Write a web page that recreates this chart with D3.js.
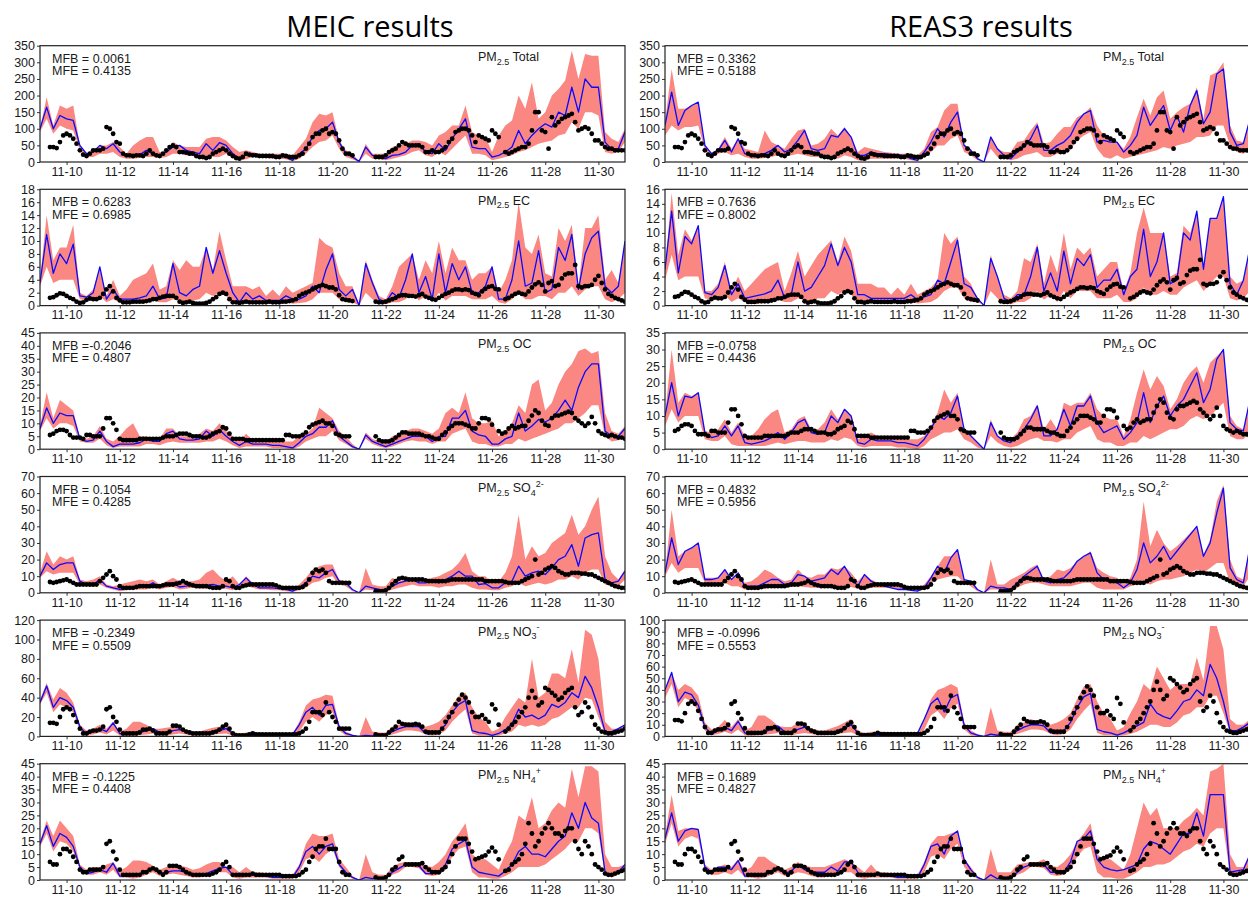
<!DOCTYPE html>
<html>
<head>
<meta charset="utf-8">
<script src="https://cdn.jsdelivr.net/npm/d3@7"></script>
<style>
  body { margin: 0; background: #fff; }
  text { font-family: "Liberation Sans", Arial, sans-serif; fill: #1a1a1a; }
  .title { font-family: "Open Sans", sans-serif; font-size: 29px; fill: #000; }
</style>
</head>
<body>
<svg id="chart" width="1248" height="897"></svg>
<script>
// ---- time axis: hours since 11-09 00:00; model every 6 h, observations every 3 h
const dateLabels = ["11-10","11-12","11-14","11-16","11-18","11-20","11-22","11-24","11-26","11-28","11-30"];
const dateTickHours = [24,72,120,168,216,264,312,360,408,456,504];

// ---- y-axis tick values
const ticksTotal = [0,50,100,150,200,250,300,350];
const ticksECMeic = [0,2,4,6,8,10,12,14,16,18];
const ticksECReas = [0,2,4,6,8,10,12,14,16];
const ticksOCMeic = [0,5,10,15,20,25,30,35,40,45];
const ticksOCReas = [0,5,10,15,20,25,30,35];
const ticksSO4 = [0,10,20,30,40,50,60,70];
const ticksNO3Meic = [0,20,40,60,80,100,120];
const ticksNO3Reas = [0,10,20,30,40,50,60,70,80,90,100];
const ticksNH4 = [0,5,10,15,20,25,30,35,40,45];

// ---- statistics printed in each panel
const statsMeic = [["MFB = 0.0061","MFE = 0.4135"],["MFB = 0.6283","MFE = 0.6985"],["MFB =-0.2046","MFE = 0.4807"],
                   ["MFB = 0.1054","MFE = 0.4285"],["MFB = -0.2349","MFE = 0.5509"],["MFB = -0.1225","MFE = 0.4408"]];
const statsReas = [["MFB = 0.3362","MFE = 0.5188"],["MFB = 0.7636","MFE = 0.8002"],["MFB =-0.0758","MFE = 0.4436"],
                   ["MFB = 0.4832","MFE = 0.5956"],["MFB = -0.0996","MFE = 0.5553"],["MFB = 0.1689","MFE = 0.4827"]];

// ---- observations (3-hourly, µg/m3)
const obsTotal = [null,null,null,45,45,42,60,80, 85,80,70,55,35,22,18,25, 35,35,35,40,105,100,85,60, 55,25,20,20,18,20,20,18, 25,35,25,20,18,25,35,45, 50,45,30,30,28,25,25,18, 15,15,12,15,25,30,35,40, 35,25,18,12,10,15,25,22, 20,20,18,18,18,18,18,15, 15,20,18,15,15,15,20,25, 40,55,75,85,85,95,100,85, 90,85,65,40,25,25,20,null, null,null,null,null,null,15,15,15, 20,30,35,40,50,60,55,50, 50,50,50,45,30,30,35,30, 30,35,45,60,70,90,95,100, 100,95,80,60,80,75,70,65, 95,85,75,null,30,25,30,35, 40,45,45,55,95,150,150,95, 90,40,135,110,120,130,135,140, 145,120,95,100,105,100,85,65, 65,55,45,40,40,35,35,35, 35];
const obsEC = [null,null,null,1.2,1.3,1.6,1.9,1.8, 1.5,1.2,1.0,0.6,0.4,0.5,0.9,1.1, 1.0,1.0,1.2,1.8,2.5,3.0,2.2,1.2, 0.8,0.5,0.5,0.5,0.6,0.6,0.6,0.6, 0.7,0.8,1.0,1.0,1.2,1.4,1.5,1.5, 1.5,1.2,0.6,0.4,0.5,0.6,0.4,0.3, 0.3,0.3,0.4,0.6,1.0,1.3,1.8,2.0, 1.8,1.0,0.5,0.5,0.4,0.5,0.6,0.5, 0.5,0.5,0.5,0.5,0.5,0.6,0.5,0.5, 0.5,0.6,0.6,0.7,0.8,1.0,1.5,1.8, 2.0,2.2,2.5,2.8,3.0,3.2,3.0,2.8, 2.8,2.5,1.6,1.0,0.9,0.8,0.7,null, null,null,null,null,null,0.6,0.5,0.5, 0.6,0.8,1.0,1.2,1.5,1.6,1.6,1.5, 1.5,1.4,1.6,1.8,1.4,1.2,1.0,0.9, 1.2,1.5,1.8,2.0,2.3,2.5,2.5,2.4, 2.5,2.4,2.0,1.8,1.6,2.2,2.6,2.9, 3.0,2.6,2.5,null,1.0,1.2,1.5,1.8, 2.0,1.8,1.7,2.2,2.8,3.3,3.6,3.2, 2.2,3.5,3.8,3.0,3.2,4.2,4.8,5.0, 5.0,6.3,3.0,2.8,3.0,3.0,3.2,4.0, 4.6,3.5,2.5,1.8,1.5,1.2,1.0,0.8, 0.6];
const obsOC = [null,null,null,5.5,6,7,7.5,7.5, 7,5.5,4.5,4.5,4.5,4,5.5,5.5, 5,5,5,8,12,12,10,7.5, 4,3.5,3.5,3.5,3.5,3.5,4,4, 4,4,4,4,4,4.5,5,5, 5,5.5,6,6,6,5.5,5,5, 5,4.5,4.5,5,6,6.5,7,8.5, 8,6,4,4,4,4,3.5,3.5, 3.5,3.5,3.5,3.5,3.5,3.5,3.5,3.5, 3.5,3.5,5.5,5.5,5,5,5,5.5, 6.5,8.5,9.5,10,10.5,11,10,10, 9,6,5.5,5,5,5,null,null, null,null,null,null,null,5,3.5,3, 3,3,3.5,4.5,5.5,6.5,6.5,6, 6,6,6,5.5,5,5,4.5,4, 4,5.5,6.5,8,9,10,10,10, 9.5,9,8,8,10,12,12,11.5, 9.5,null,7,6,6.5,8,9,8, 8.5,9,9,11,13,15,14,11, 9.5,9,12,13,13,13.5,14,14.5, 14,12,11,10,9,10,12.5,10, 7,6,5.5,5,5.5,5,4.5,4.5, 4];
const obsSO4 = [null,null,null,6.5,6,6.5,7,7.5, 8,7,6,5,5,5,5,5, 5,5,7,9,11,13,10,8, 4,3,3,3,3,3.5,4,4, 4,4,4,4,4,4.5,5,5, 5,5.5,6,7,6,5,4.5,4, 4,4,4,3.5,3,3,3,4, 8,7,4,3,3,4,4.5,5, 5,5,5,5,5,5,5,4.5, 3.5,3,3,3,3,3,3,3.5, 5,8,12,14,13,14,12,7, 6,6,6,6,6,6,null,null, null,null,null,null,null,1,1,1, 1.5,3,5,7,8.5,9,8.5,8, 8,8,8,8,7.5,7,7,7, 7,7,7,7.5,8,8,8,8, 8,8,8,8,8,8,7,7, 7,7,7,7,6.5,6,6,6, 6,7,8,9,10,20,11,12, 14,15,16,15,13,12,11,11, 12,12,12,11.5,11.5,11,11,10, 9,8,7,6,5,4,3.5,3, 3];
const obsNO3 = [null,null,null,14,14,13,20,28, 30,28,22,15,8,3,3,5, 6,6,7,10,28,30,20,15, 7,3,3,3,3,3,4,7, 7,8,6,3,3,3,3,5, 11,11,10,7,5,4,3,3, 3,3,3,3,4,5,7,10, 12,8,3,1,1,1,1,2, 3,2,2,2,2,2,2,2, 2,2,2,2,2,2,3,5, 8,15,25,25,25,22,35,25, 20,15,8,8,8,8,null,null, null,null,null,null,null,2,1,1, 1,4,7,10,15,13,12,12, 12,13,12,10,5,4,4,4, 4,8,15,20,25,33,38,43, 40,35,25,20,20,22,18,15, 33,28,12,null,5,8,12,15, 20,25,30,40,47,40,32,35, 50,48,45,42,38,40,45,48, 50,30,22,25,35,30,20,12, 8,5,4,3,3,4,5,6, 8];
const obsNH4 = [null,null,null,7,6,6,10,12, 12,11,9,7,4,3,3,4, 4,4,4,5,14,15,11,8, 4,2,2,2,2,2,2,3, 3,4,4.5,4,3,2,3,5.5, 5.5,5.5,5,4,3,2.5,2,2, 2,2,2,2,2.5,3,4,6, 7,5,2,2,2,2,2,2, 2.5,2,2,2,2,2,2,2, 2,1.5,1.5,1.5,1.5,1.5,2,3, 4,7,9,12,13,13,16,12, 12,12,7,3,2,2,null,null, null,null,null,null,null,1,0.5,0.5, 1,2,4,5,8,9,6,6, 6,6,6,6.5,5,4,3,3, 3,4,5,7,10,13,16,16, 16,14,11,8,8.5,9,9.5,11, 12.5,11,8,null,3.5,4,6,7, 8,10,14,22,18,13,15,18, 20,22,20,18,18,17,19,20, 20,15,12,10,15,13,10,6, 5,4,2.5,2,2,2.5,3,3.5, 4];

// ---- MEIC simulation (6-hourly): ensemble mean, lower and upper envelope
const meicTotalMean = [100,165,100,140, 130,125,50,25, 30,50,40,55, 30,20,20,22, 35,25,20,30, 45,50,35,30, 25,55,35,58, 50,25,10,22, 25,20,20,18, 18,15,5,25, 40,75,95,100, 120,60,25,15, 2,45,20,15, 10,20,22,30, 50,55,30,25, 55,35,70,100, 130,45,40,40, 15,20,30,45, 95,55,80,100, 115,105,150,140, 225,150,250,225, 225,60,38,40, 90];
const meicTotalLow = [90,130,85,110, 100,95,35,15, 15,25,25,30, 15,10,10,12, 15,15,12,15, 25,25,20,18, 15,20,15,15, 25,12,5,8, 15,12,12,10, 10,8,2,10, 25,45,60,65, 80,40,15,8, 0,25,10,8, 5,10,15,20, 30,35,20,15, 30,20,40,60, 80,25,25,20, 5,10,15,20, 30,35,45,55, 60,65,80,85, 120,100,150,150, 140,30,25,30, 60];
const meicTotalHigh = [100,195,110,170, 160,170,50,25, 35,50,50,60, 45,25,50,65, 75,75,30,30, 60,50,45,45, 45,70,75,75, 65,45,30,35, 30,25,25,25, 25,25,20,45, 70,120,145,140, 150,65,35,25, 2,55,25,25, 25,45,50,55, 65,65,60,50, 80,90,110,110, 170,90,80,75, 30,80,110,125, 200,160,240,130, 150,200,220,245, 335,250,325,320, 320,90,70,60, 100];

const meicECMean = [3.5,11,5,8, 6.5,9.5,1.5,1.3, 2,6,1,2.5, 1,1,1,1.2, 1.5,3,1,1.2, 6.5,2,1.5,2.5, 3,9,5,8.5, 5,2,0.5,2, 1,1.5,0.8,0.8, 0.8,1.5,1,1, 1.5,3,2,5.5, 8,2.5,1.5,2.5, 0,6.5,3.5,1, 0.5,2,1.2,4, 8,2,4.5,1, 8,2,6.5,4, 6,2,2,3, 6,1,1,4, 10,3,3.5,8.5, 2,2.5,9,7, 11,2.5,8,10.5, 11.5,3,2,3, 10];
const meicECLow = [3,6,3.5,4, 4,4,1,0.8, 1,1.5,0.5,1, 0.5,0.3,0.3,0.5, 0.6,0.8,0.5,0.5, 1,0.8,0.5,0.8, 1,2,1.5,2, 1.5,0.5,0.2,0.5, 0.3,0.5,0.3,0.3, 0.3,0.5,0.3,0.4, 0.5,1,2,2, 2,1,0.5,0.5, 0,2,1,0.3, 0.2,0.5,0.5,1, 2,0.8,1.5,0.5, 2,0.8,1.5,1.5, 1.5,1,1,1, 1.5,0.5,0.3,1, 2,1,1,1.5, 1.5,1,2,2, 3,1.5,2.5,3, 3,1,0.5,1, 2];
const meicECHigh = [4,14,7,9, 9,12.5,2,1.5, 2.5,6,1.5,4, 1.5,2.5,4,4.5, 5,6.5,2.5,3, 7,5.5,7,6, 6,9,5.5,11.5, 7,3,3,3, 2.5,3,1.5,2.5, 1.5,3,2,2.5, 3,3.5,10.5,9.5, 9,5,3,3, 0.2,7,4,1.5, 1,3,6,7, 7,4,7,5, 10,5,9,7, 7,4,5,5, 6,2,4,7, 16,9,8,11, 5,4.5,12,10, 12.5,3,12,12, 14,4,5.5,3.5, 10];

const meicOCMean = [8,16,10,14, 13,13,4,3, 3.5,7,3,1, 2,2,2,2.5, 4,3,3,6, 7,4,3.5,3.5, 4,7,5,7.5, 5,3,1.5,3, 2,2,2,1.5, 1.5,1,0.5,2.5, 5,6,8.5,8.5, 11,5,3,1, 0,5.5,3,2, 1,2,3,4, 5,5,5,3, 5,5,12,12, 15,7,5.5,5, 2,2,4,5, 14,7,9,11.5, 10.5,12,15,19, 15,24,30,33, 33,7,5,5, 8];
const meicOCLow = [7,12,8,10, 10,9,3,2.5, 2.5,4,1.5,0.5, 1,1,1,1, 2,2,1.5,2.5, 3,2.5,2.5,2.5, 2.5,3,3,4, 3,1.5,0.5,1, 1,1,1,0.5, 0.5,0.3,0,1, 3,4,5,5, 7,3.5,2,0.5, 0,4,2,1, 0.5,1,2,3, 3.5,3,3,2, 3,3,6,7, 8,3,2,2, 1,1,2,2, 4,3,4,5, 6,7,8,10, 10,12,14,17, 17,5,3,3.5, 5];
const meicOCHigh = [9,22,12,19, 17,15,4.5,4, 5,9,4,3, 5,8,10,5, 5,4,4,8, 8,5,5,5.5, 6,8,7,10, 7,5,3,6, 3.5,4,3,3, 3,3,3,5, 6,8,16,14, 12,7,5,2, 0,6.5,4,3, 3,5,6,7, 8,8,7,6, 8,14,16,14, 22,12,10,10, 11,5,7,10, 17,14,25,27, 15,18,25,30, 33,38,39,37, 38,14,7,6, 9];

const meicSO4Mean = [10,18,14,17, 18,18,7,5, 5,8,4,3, 2,2.5,3,4, 3.5,6,3.5,5, 6,3.5,4,5, 4.5,4.5,5,4, 4,3,5,9, 5,3,3,3, 2.5,2,1,3, 6,10,9,12, 14,7,6,2, 0,4,3,2, 1,4,6,7, 8,6,6,7, 6,8,10,13, 10,10,5,5.5, 3,3,6,7, 16,10,12,13, 11,15,20,22, 29,16,33,35, 36,8,6,7, 13];
const meicSO4Low = [9,13,11,12, 12,12,5,4, 3.5,5,3,2, 1,1.5,2,2, 2,3,2,3, 3.5,2,2.5,3, 2.5,2.5,3,2.5, 2.5,1.5,3,4, 3,2,2,1.5, 1.5,1,0.5,1.5, 3,6,7,9, 10,5,4,1, 0,2,1.5,1, 0.5,2,3,4, 5,4,4,4, 3,4,4,5, 5,3,2,2, 1.5,1.5,3,4, 6,4,5,6, 5,6,8,8, 10,8,12,14, 14,5,4,4, 8];
const meicSO4High = [12,25,17,22, 20,22,8,7, 8,10,5,4, 5,6,7,8, 7,8,5,7, 9,7,7,7, 8,12,14,10, 7,10,5,10, 6,5,5,4.5, 4,4,3,5, 9,14,16,17, 17,8,7,2, 0,15,5,4, 4,9,7,8, 8,9,8,9, 10,12,14,18, 24,13,10,10, 6,7,12,22, 47,20,28,22, 24,30,33,36, 47,35,40,50, 58,22,12,8, 14];

const meicNO3Mean = [35,52,30,40, 37,30,10,2, 5,8,5,14, 3,2,3,4, 6,8,4,3, 6,7,5,3, 2,3,5,6, 8,3,1,1, 1,1,1,1, 0.5,0.5,2,12, 25,30,22,32, 33,10,3,1, 0,1,0.5,2, 2,5,8,10, 10,10,3,3, 5,12,25,33, 37,6,4,3, 1,3,7,13, 28,20,22,18, 22,33,30,35, 45,40,62,50, 30,5,5,8, 12];
const meicNO3Low = [33,45,25,33, 30,25,6,1, 2,4,2,6, 1,0.5,1,1.5, 2,3,2,1, 2,3,2,1, 1,1.5,2,2.5, 3,1,0.3,0.3, 0.3,0.3,0.3,0.3, 0,0,0.5,5, 15,20,15,22, 25,6,1,0.3, 0,0.5,0.2,0.5, 1,2,4,6, 6,5,2,1, 2,6,15,22, 28,3,1,1, 0.5,1,3,5, 12,10,12,10, 12,18,20,25, 30,30,40,38, 20,3,3,4, 8];
const meicNO3High = [38,55,38,50, 45,35,12,6, 8,12,8,15, 5,8,15,15, 12,8,8,9, 10,8,7,5, 5,7,9,10, 10,5,3,4, 5,4,3,3, 3,3,3,15, 32,38,40,43, 42,12,5,2, 0,20,5,4, 4,10,12,15, 13,12,10,12, 15,22,32,42, 45,30,20,15, 5,8,20,30, 40,35,80,40, 45,65,65,60, 90,55,110,105, 80,15,8,8, 12];

const meicNH4Mean = [14,21,13,18, 16.5,13,5,2.5, 3,4,3,6.5, 1.5,1.5,1.5,2, 3.5,4.5,2.5,3, 3.5,3.5,3,2, 1.5,2.5,3.5,4.5, 5,2,1.5,2, 2,1.5,1.5,1, 1,1,1,5, 11,13,10,13, 14,6,3,1, 0,1,0.5,1, 1,3,4.5,6, 6,5.5,2.5,2.5, 3,6,12,14, 15.5,5,3,2.5, 2,1.5,3.5,6, 11,13,10,10, 9,12,15,17, 26,20,30,24, 22,3,2,3, 6];
const meicNH4Low = [13,18,11,15, 14,11,4,2, 2,3,2,4, 1,1,0.5,1, 2,3,1.5,2, 2.5,2,1.5,1, 1,1.5,2,3, 3,1,0.5,1, 1,1,1,0.5, 0.5,0.5,0.5,3, 8,9,7,10, 12,5,2,0.5, 0,0.5,0.3,0.5, 0.5,2,3,5, 5,4.5,2,1.5, 2,4,9,12, 13,3,1,1, 0.5,0.5,1.5,3, 5,5,5,5, 6,8,10,12, 15,15,20,20, 18,2,1,2, 4];
const meicNH4High = [15,23,17,23, 20,17,6,4, 5,5,6,7, 3.5,5,7.5,7.5, 7,5.5,4,5, 6,5.5,5,4, 4.5,6,7,7, 5,5,3,5, 3,3,2.5,2.5, 2,2,2,6, 14,18,17,17, 18,8,5,1.5, 0,10,3,2, 2,5,6.5,7, 7,7,5.5,5, 7,10,15,18, 22,10,8,8, 6,4,10,15, 25,23,32,20, 22,27,30,28, 43,32,44,44, 42,10,5,5, 6];

// ---- REAS3 simulation (6-hourly): ensemble mean, lower and upper envelope
const reasTotalMean = [110,210,110,155, 170,180,50,25, 35,65,30,70, 25,20,20,25, 35,50,30,40, 65,95,40,35, 40,80,75,100, 75,20,20,30, 25,25,22,20, 20,10,5,30, 60,100,75,120, 150,50,35,10, 0,75,40,20, 10,30,45,70, 110,35,35,50, 60,80,120,145, 155,60,65,60, 60,30,50,80, 165,110,140,170, 95,140,90,170, 215,115,150,265, 280,90,50,55, 130];
const reasTotalLow = [80,110,95,105, 105,110,35,15, 25,30,20,25, 15,10,10,12, 15,20,15,20, 25,20,15,15, 15,20,10,20, 15,5,3,10, 10,10,10,10, 10,5,2,15, 30,50,50,70, 80,30,20,5, 0,40,15,10, 5,10,20,25, 30,15,15,25, 25,40,65,80, 90,40,15,10, 20,10,15,20, 25,30,35,45, 40,50,55,60, 75,75,80,110, 110,50,30,25, 40];
const reasTotalHigh = [120,280,160,160, 160,180,50,25, 40,75,40,70, 40,35,30,95, 60,45,40,70, 95,100,50,55, 70,100,80,105, 75,30,45,40, 35,30,28,25, 25,25,20,40, 90,105,155,175, 175,50,40,10, 0,80,40,30, 30,60,65,95, 120,55,60,85, 105,105,135,145, 165,110,80,75, 60,40,75,135, 190,140,195,215, 130,150,165,175, 225,130,260,270, 300,110,65,60, 130];

const reasECMean = [5,13,4.5,9.5, 8.5,11,1.8,1.5, 2.5,5.5,1.5,3, 1,1.2,1.4,1.6, 2,3.5,1,1.5, 6,2,2.5,4, 5.5,8.5,5.5,8, 6,1.5,1.5,1, 1,1,1,1, 1,1.5,0.8,1.2, 1.5,3.5,3,6, 9,3,2.5,1, 0,6.5,4,1, 0.5,1.5,1.5,4, 8,2,4.5,2, 7.5,3,6.5,5.5, 7,2.5,3.5,3.5, 5,1.5,4,5, 10.5,4,6,10, 3,3.5,10,9, 13,5,12,12, 15,3,1.5,3.5, 8];
const reasECLow = [3.5,7,3.5,4, 4,4,1,0.8, 1,1.5,0.5,1, 0.5,0.3,0.3,0.5, 0.6,0.8,0.5,0.5, 1,0.8,0.5,1, 1,2,1.5,2, 1.5,0.5,0.2,0.5, 0.3,0.5,0.3,0.3, 0.3,0.5,0.3,0.4, 0.5,1,2,2.5, 2.5,1,0.5,0.5, 0,2,1,0.3, 0.2,0.5,0.5,1, 2,0.8,1.5,0.5, 2,1,2,2, 2,1,1,1, 1.5,0.5,0.5,1, 2.5,1.5,1.5,2, 1.5,1.5,2.5,3, 3.5,2,3,4, 4,1,0.7,1, 2];
const reasECHigh = [4,15.5,7,10.5, 9,11,2,2, 3,6,2,4, 2,3,4,5, 5.5,6,2,4.5, 7.5,4,5.5,7, 8,9,6,9.5, 7.5,3,3,3, 2.5,2.5,1.5,2.5, 1.5,3,1.5,2, 2.5,3.5,10,8.5, 9.5,4,3,1, 0,7,4,1.5, 1,2,6.5,6, 8.5,3,7,4.5, 10,5,8,7, 8,4,5,6, 6,2,4.5,10, 13.5,10,10,10, 4,4.5,11,10, 13,5,12,12, 15,4,3,3.5, 8];

const reasOCMean = [10,20,10,16, 15.5,17,5,3.5, 4,7,4,7, 2,1.5,2,2.5, 3.5,5,3,5, 8,9,5,4.5, 5,10,8,12, 10,2,1.5,3, 2.5,2.5,2.5,2, 2,1.5,1,3, 6,10,9,11, 16,6,4,2, 0,8,4,2.5, 2,4,6,9, 13,4,4,6, 12,7,13,13, 16,8,5,6, 7,3,5,8, 17,8,13,16, 10,13,15,19, 23,14,18,27, 30,8,6,5.5, 15];
const reasOCLow = [7,12,8,10, 10,10,3,2.5, 2.5,4,1.5,1, 1,1,1,1, 1.5,2,1.5,2, 2.5,2.5,2,2, 2,3,2.5,3.5, 3,1,0.5,1, 1,1,1,0.5, 0.5,0.3,0,1, 3,4,5,5, 6,3,2,0.5, 0,4,2,1, 0.5,1,2,3, 3.5,2.5,2.5,2, 3,3,5,6, 7,3,2,2, 1,1,2,2, 4,3,4,5, 6,6,7,9, 10,9,10,12, 14,4,3,3, 5];
const reasOCHigh = [9,30,14,17, 16,17,5.5,5, 6,9,5,8, 4,4,6,9, 11,12,5,6, 9,10,6,6, 8,12,9,12, 10,3,4,5, 4,4,3.5,3, 3,3,3,4, 7,11,18,14, 17,6,4.5,2, 0,9,4,3, 3,5,9,10, 13.5,6,9,6, 14,13,14,14, 17,12,10,9, 9,4,9,17, 24,18,22,19, 12,15,20,23, 25,20,26,28, 30,10,7,6, 15];

const reasSO4Mean = [12,33,17,25, 27,30,8,8, 9,14,8,12, 4,4,4,6, 8,8,5,6, 11,10,7,8, 9,14,11,16, 9,4,11,7, 5,4,3,2, 2,1.5,1,3, 9,16,12,21, 26,8,7,2, 0,4,3,3, 2,6,10,13, 16,7,6,8, 9,13,19,22, 24,12,8,7, 6,3,6,14, 30,18,22,28, 20,25,30,35, 40,22,30,48, 63,15,8,6, 28];
const reasSO4Low = [10,18,12,15, 15,15,6,5, 5,6,4,4, 2,2,2,2.5, 3,4,3,3.5, 4,3.5,3,3, 3.5,4,4,4, 3.5,2.5,2,3, 3,3,3,2, 2,1.5,1,2, 6,8,9,10, 10,6,4,1, 0,2,2,1.5, 1,3,5,6, 6,5,4,4, 4,4,5,6, 6,3,2,2, 2,2,4,5, 6,5,7,8, 8,9,10,12, 14,12,15,18, 18,6,4,4, 10];
const reasSO4High = [12,50,22,25, 25,30,9,9, 9,14,8,12, 6,7,10,14, 12,9,7,8, 14,10,9,11, 11,15,14,16, 12,7,11,8, 6,5,4.5,4, 4,4,3,5, 10,16,22,22, 26,8,7,2, 0,20,5,5, 8,10,12,15, 17,8,10,14, 13,15,19,22, 25,15,12,10, 9,5,9,20, 55,28,38,30, 25,28,32,36, 40,23,32,55, 65,20,10,8, 28];

const reasNO3Mean = [40,55,30,38, 36,27,8,2, 5,8,5,13, 3,2,3,4, 6,9,4,3, 6,8,5,3, 2,3,5,7, 10,3,1,1, 1,1,1,1, 1,1,3,15, 28,33,21,33, 36,10,3,1, 0,2,1,2, 2,5,8,10, 10,9,3,3, 5,12,25,34, 37,6,4,3, 1,3,6,9, 12,28,20,17, 15,22,30,32, 40,35,62,50, 30,5,5,8, 12];
const reasNO3Low = [33,45,25,33, 30,22,5,1, 2,4,2,6, 1,0.5,1,1.5, 2,3,2,1, 2,3,2,1, 1,1.5,2,3, 3.5,1,0.3,0.3, 0.3,0.3,0.3,0.3, 0,0,1,6, 18,22,15,24, 28,6,1,0.3, 0,0.5,0.2,0.5, 1,2,4,6, 6,5,2,1, 2,6,15,22, 28,3,1,1, 0.5,1,2,4, 7,10,10,8, 8,12,18,20, 25,25,35,35, 20,3,3,4, 8];
const reasNO3High = [37,55,40,45, 42,35,12,6, 8,14,8,15, 5,8,18,18, 14,8,8,8, 12,8,7,5, 5,7,9,12, 15,5,3,4, 4,4,3,3, 3,3,3,15, 32,40,42,45, 42,12,5,2, 0,25,5,4, 4,10,12,15, 13,12,10,12, 15,20,32,43, 45,30,20,15, 5,8,20,30, 45,40,60,50, 40,45,45,45, 68,48,95,95, 75,15,10,10, 15];

const reasNH4Mean = [16,26,15,19, 20,19.5,5,3, 5,5,4,7.5, 1.5,1.5,1.5,2, 3.5,5,2.5,3.5, 6,4,3,3, 3,5,3.5,7, 7,3,1.5,2.5, 2,1.5,1.5,1, 1,1,1,6, 13,14,10,17, 19,8,4,1, 0,2,0.5,1, 1,3,5,6, 6,6,3,3, 3,7,15,16, 19,8,5,4, 3.5,4,5,6, 12,15,14,12, 10,14,18,18, 26,17,33,33, 33,3,3.5,4, 10];
const reasNH4Low = [14,22,13,16, 17,16,4,2, 2,3,2,4, 1,1,0.5,1, 2,3,1.5,2, 3,2.5,1.5,1, 1,2,2,3, 3,1,0.5,1, 1,1,1,0.5, 0.5,0.5,0.5,3, 9,10,8,12, 14,5,2,0.5, 0,0.5,0.3,0.5, 0.5,2,3,5, 5,4.5,2,1.5, 2,4,9,12, 13,3,1,1, 0.5,0.5,1.5,3, 5,5,6,6, 7,9,11,12, 14,13,18,20, 20,2,1.5,2, 5];
const reasNH4High = [17,33,19,20, 20,20,6,4, 5,6,5,8, 3.5,5,9,9, 7,5.5,4,5, 7,5.5,5,5, 5,6,7,8, 7,5,3,6, 3,3,2.5,2.5, 2,2,2,7, 14,17,17,18, 19,8,5,1.5, 0,12,3,3, 3,6,6.5,7, 7,8,5.5,5, 7,10,15,18, 22,10,8,8, 6,4,10,20, 30,25,28,20, 20,20,23,25, 28,25,42,43, 45,10,5,5, 10];

// ---- panel layout
const species = [
  {base: "Total"}, {base: "EC"}, {base: "OC"},
  {base: "SO", sub: "4", sup: "2-"}, {base: "NO", sub: "3", sup: "-"}, {base: "NH", sub: "4", sup: "+"}
];
const obsBySpecies = [obsTotal, obsEC, obsOC, obsSO4, obsNO3, obsNH4];
const columns = [
  {title: "MEIC results", x0: 40, stats: statsMeic,
   ticks: [ticksTotal, ticksECMeic, ticksOCMeic, ticksSO4, ticksNO3Meic, ticksNH4],
   model: [[meicTotalMean, meicTotalLow, meicTotalHigh], [meicECMean, meicECLow, meicECHigh],
           [meicOCMean, meicOCLow, meicOCHigh], [meicSO4Mean, meicSO4Low, meicSO4High],
           [meicNO3Mean, meicNO3Low, meicNO3High], [meicNH4Mean, meicNH4Low, meicNH4High]]},
  {title: "REAS3 results", x0: 665, stats: statsReas,
   ticks: [ticksTotal, ticksECReas, ticksOCReas, ticksSO4, ticksNO3Reas, ticksNH4],
   model: [[reasTotalMean, reasTotalLow, reasTotalHigh], [reasECMean, reasECLow, reasECHigh],
           [reasOCMean, reasOCLow, reasOCHigh], [reasSO4Mean, reasSO4Low, reasSO4High],
           [reasNO3Mean, reasNO3Low, reasNO3High], [reasNH4Mean, reasNH4Low, reasNH4High]]}
];

const panelW = 585, panelH = 116.3, rowStep = 143.6, firstTop = 45.7;
const bandColor = "#fa8781", lineColor = "#0a0aff";

const svg = d3.select("#chart");
const x = d3.scaleLinear().domain([0, 528]).range([0, panelW]);

// titles
svg.append("text").attr("class", "title").attr("x", 370).attr("y", 36.7)
   .attr("text-anchor", "middle").text(columns[0].title);
svg.append("text").attr("class", "title").attr("x", 981).attr("y", 36.7)
   .attr("text-anchor", "middle").text(columns[1].title);

columns.forEach((col, ci) => {
  species.forEach((sp, ri) => {
    const top = firstTop + ri * rowStep;
    const ticks = col.ticks[ri];
    const y = d3.scaleLinear().domain([0, d3.max(ticks)]).range([panelH, 0]);
    const g = svg.append("g").attr("transform", `translate(${col.x0},${top})`);

    const clipId = `clip-${ci}-${ri}`;
    g.append("clipPath").attr("id", clipId)
     .append("rect").attr("width", panelW).attr("height", panelH);
    const plot = g.append("g").attr("clip-path", `url(#${clipId})`);

    const [mean, low, high] = col.model[ri];
    const modelPts = mean.map((m, i) => ({t: i * 6, m, lo: Math.min(low[i], m), hi: Math.max(high[i], m)}));

    // ensemble envelope
    plot.append("path").datum(modelPts)
      .attr("fill", bandColor).attr("stroke", "none")
      .attr("d", d3.area().x(d => x(d.t)).y0(d => y(d.lo)).y1(d => y(d.hi)));

    // ensemble mean
    plot.append("path").datum(modelPts)
      .attr("fill", "none").attr("stroke", lineColor).attr("stroke-width", 1.3)
      .attr("stroke-linejoin", "round")
      .attr("d", d3.line().x(d => x(d.t)).y(d => y(d.m)));

    // observations
    const obs = obsBySpecies[ri].map((v, i) => ({t: i * 3, v})).filter(d => d.v !== null);
    plot.selectAll("circle").data(obs).join("circle")
      .attr("cx", d => x(d.t)).attr("cy", d => y(d.v)).attr("r", 2.4).attr("fill", "#000");

    // y axis
    const yAxis = g.append("g").call(d3.axisLeft(y).tickValues(ticks).tickSize(3).tickPadding(2));
    yAxis.select(".domain").remove();
    yAxis.selectAll("text").attr("font-size", 12.5).attr("font-family", "Liberation Sans, Arial, sans-serif").attr("fill", "#1a1a1a");
    yAxis.selectAll("line").attr("stroke", "#333");

    // x axis
    const xAxis = g.append("g").attr("transform", `translate(0,${panelH})`)
      .call(d3.axisBottom(x).tickValues(dateTickHours).tickFormat((d, i) => dateLabels[i]).tickSize(3).tickPadding(2));
    xAxis.select(".domain").remove();
    xAxis.selectAll("text").attr("font-size", 12.5).attr("font-family", "Liberation Sans, Arial, sans-serif").attr("fill", "#1a1a1a");
    xAxis.selectAll("line").attr("stroke", "#333");

    // frame
    g.append("rect").attr("width", panelW).attr("height", panelH)
     .attr("fill", "none").attr("stroke", "#222").attr("stroke-width", 1.2);

    // statistics
    g.append("text").attr("x", 12).attr("y", 17).attr("font-size", 12.5).text(col.stats[ri][0]);
    g.append("text").attr("x", 12).attr("y", 29.5).attr("font-size", 12.5).text(col.stats[ri][1]);

    // species label, e.g. PM2.5 SO4 2-
    const lab = g.append("text").attr("x", 438).attr("y", 15.5).attr("font-size", 12.5);
    lab.append("tspan").text("PM");
    lab.append("tspan").attr("dy", 3.5).attr("font-size", 9).text("2.5");
    lab.append("tspan").attr("dy", -3.5).text(" " + sp.base);
    if (sp.sub) {
      lab.append("tspan").attr("dy", 3.5).attr("font-size", 9).text(sp.sub);
      lab.append("tspan").attr("dy", -9).attr("font-size", 9).text(sp.sup);
    }
  });
});
</script>
</body>
</html>
